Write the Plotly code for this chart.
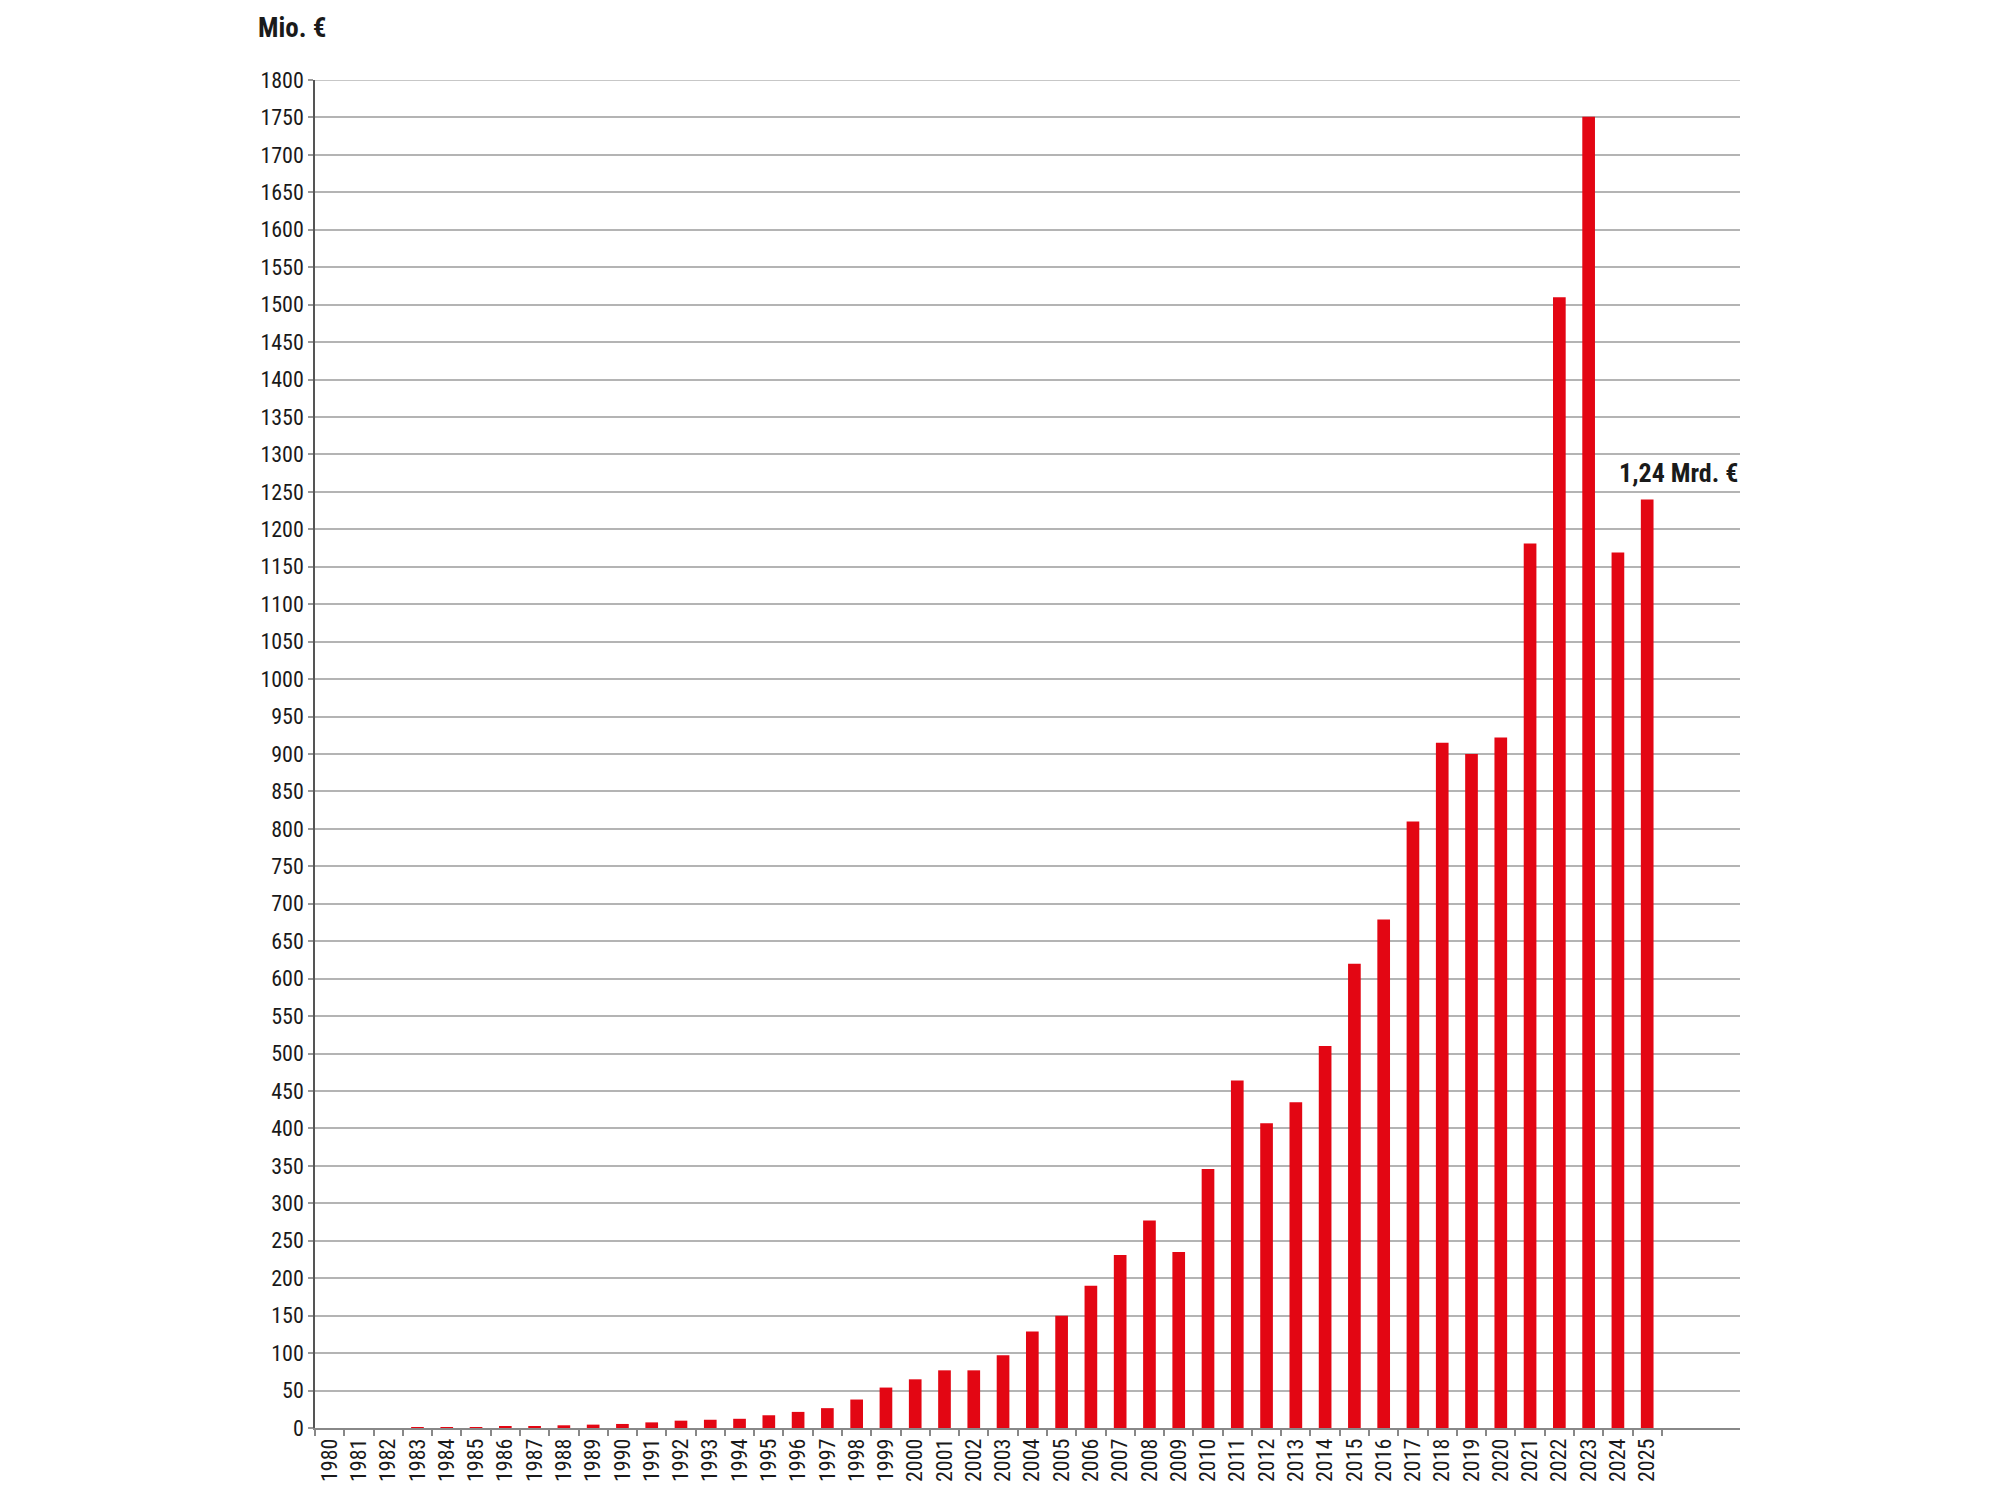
import plotly.graph_objects as go

years = [str(y) for y in range(1980, 2026)]
values = [0, 0, 0, 0.3, 0.8, 1.3, 1.8, 2.7, 3.6, 4.5,
          5.4, 7.5, 9.8, 11, 12.3, 17, 21.5, 26.5, 38, 54,
          65, 77, 77, 97, 129, 150, 190, 231, 277, 235,
          346, 464, 407, 435, 510, 620, 679, 810, 915, 900,
          922, 1181, 1510, 1751, 1169, 1240]
y_ticks = list(range(0, 1801, 50))
unit_label = "Mio. €"
note_text = "1,24 Mrd. €"
note_value = 1275

FONT = "Liberation Sans Narrow, Arial Narrow, Roboto Condensed, Roboto, sans-serif"
TXT = "#1a1a1a"
GRID = "#b4b4b4"

fig = go.Figure(go.Bar(
    x=years, y=values,
    marker=dict(color="#e30613", line=dict(width=0)),
))

fig.update_layout(
    width=2000, height=1500,
    margin=dict(l=315, r=260, t=80, b=72),
    paper_bgcolor="white", plot_bgcolor="white",
    bargap=0.567,
    showlegend=False,
    font=dict(family=FONT, color=TXT, size=22),
)

fig.update_xaxes(
    type="category",
    range=[-0.5, 48.17],
    tickson="boundaries",
    ticks="outside", ticklen=6, tickwidth=1.5, tickcolor="#888888",
    showline=True, linecolor="#888888", linewidth=1.5,
    showgrid=False,
    tickangle=-90,
    tickfont=dict(family=FONT, size=22, color=TXT),
)

fig.update_yaxes(
    range=[0, y_ticks[-1]],
    tickvals=y_ticks,
    ticktext=[str(v) for v in y_ticks],
    ticks="outside", ticklen=5, tickwidth=1.5, tickcolor="#999999",
    showline=True, linecolor="#555555", linewidth=1.5,
    showgrid=True, gridcolor=GRID, gridwidth=1.5,
    zeroline=False,
    tickfont=dict(family=FONT, size=22, color=TXT),
)

# top gridline at the range maximum (plotly hides the one on the edge)
fig.add_shape(
    type="line", xref="paper", yref="y",
    x0=0, x1=1, y0=y_ticks[-1], y1=y_ticks[-1],
    line=dict(color=GRID, width=1.5), layer="below",
)

fig.add_annotation(
    xref="paper", yref="paper", x=-0.0414, y=1.0386,
    xanchor="left", yanchor="middle", showarrow=False,
    text="<b>" + unit_label + "</b>",
    font=dict(family=FONT, size=27, color=TXT),
)
fig.add_annotation(
    xref="paper", yref="y", x=1.0, y=note_value,
    xanchor="right", yanchor="middle", showarrow=False,
    text="<b>" + note_text + "</b>",
    font=dict(family=FONT, size=26, color=TXT),
)

fig.write_html("out.html")
